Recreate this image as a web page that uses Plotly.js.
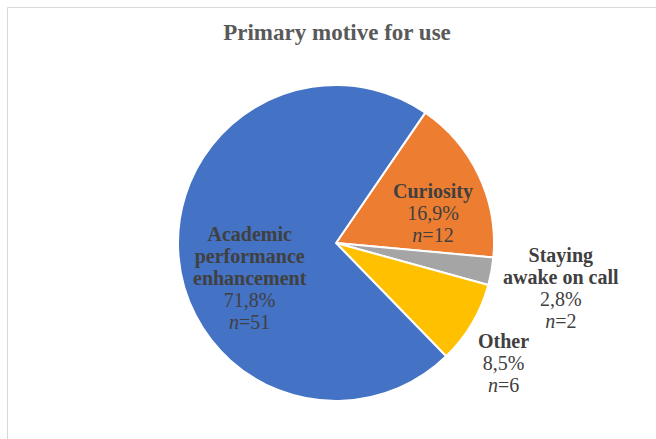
<!DOCTYPE html>
<html>
<head>
<meta charset="utf-8">
<script src="https://cdn.plot.ly/plotly-3.0.1.min.js"></script>
<style>html,body{margin:0;padding:0;background:#fff;}#chart{width:656px;height:439px;}</style>
</head>
<body>
<div id="chart"></div>
<script>
var categories = ['Academic performance enhancement', 'Curiosity', 'Staying awake on call', 'Other'];
var labelLines = ['Academic<br>performance<br>enhancement', 'Curiosity', 'Staying<br>awake on call', 'Other'];
var counts = [51, 12, 2, 6];
var colors = ['#4472C4', '#ED7D31', '#A5A5A5', '#FFC000'];

var W = 656, H = 439;
// label block centres in pixels (layout only)
var labelPos = [[250, 278], [433, 213], [561, 288], [503, 363]];

// order slices clockwise starting with Curiosity
var order = [1, 2, 3, 0];
var trace = {
  type: 'pie',
  labels: order.map(function(i){return categories[i];}),
  values: order.map(function(i){return counts[i];}),
  marker: {colors: order.map(function(i){return colors[i];}), line: {color: '#ffffff', width: 2}},
  sort: false,
  direction: 'clockwise',
  rotation: 34.4,
  textinfo: 'none',
  domain: {x: [178/W, 494/W], y: [38/H, 354/H]},
  showlegend: false,
  hoverinfo: 'label+percent+value'
};

var total = counts.reduce(function(a, b){return a + b;}, 0);
function pct(v){ return (Math.round(v / total * 1000) / 10).toFixed(1).replace('.', ','); }
function sp(s, bold){ var t = '<span style="font-size:20px">' + s + '</span>'; return bold ? '<b>' + t + '</b>' : t; }

var annotations = categories.map(function(c, i){
  var lines = labelLines[i].split('<br>').map(function(l){ return sp(l, true); });
  lines.push(sp(pct(counts[i]) + '%'));
  lines.push(sp('<i>n</i>=' + counts[i]));
  return {
    xref: 'paper', yref: 'paper',
    x: labelPos[i][0] / W, y: 1 - labelPos[i][1] / H,
    xanchor: 'center', yanchor: 'middle', align: 'center',
    showarrow: false,
    text: lines.join('<br>'),
    font: {family: 'Liberation Serif', size: 17, color: '#404040'}
  };
});

var layout = {
  width: W, height: H,
  margin: {l: 0, r: 0, t: 0, b: 0},
  paper_bgcolor: '#ffffff',
  font: {family: 'Liberation Serif'},
  title: {text: '<b>Primary motive for use</b>', x: 337/W, xanchor: 'center', y: 1 - 32/H, yanchor: 'middle',
          font: {family: 'Liberation Serif', size: 23, color: '#595959'}},
  annotations: annotations,
  shapes: [
    {type: 'line', xref: 'paper', yref: 'paper', x0: 7.5/W, x1: 1, y0: 1 - 7.5/H, y1: 1 - 7.5/H, line: {color: '#d9d9d9', width: 1}},
    {type: 'line', xref: 'paper', yref: 'paper', x0: 7.5/W, x1: 7.5/W, y0: 0, y1: 1 - 7.5/H, line: {color: '#d9d9d9', width: 1}}
  ]
};

Plotly.newPlot('chart', [trace], layout, {displayModeBar: false, staticPlot: true});
</script>
</body>
</html>
